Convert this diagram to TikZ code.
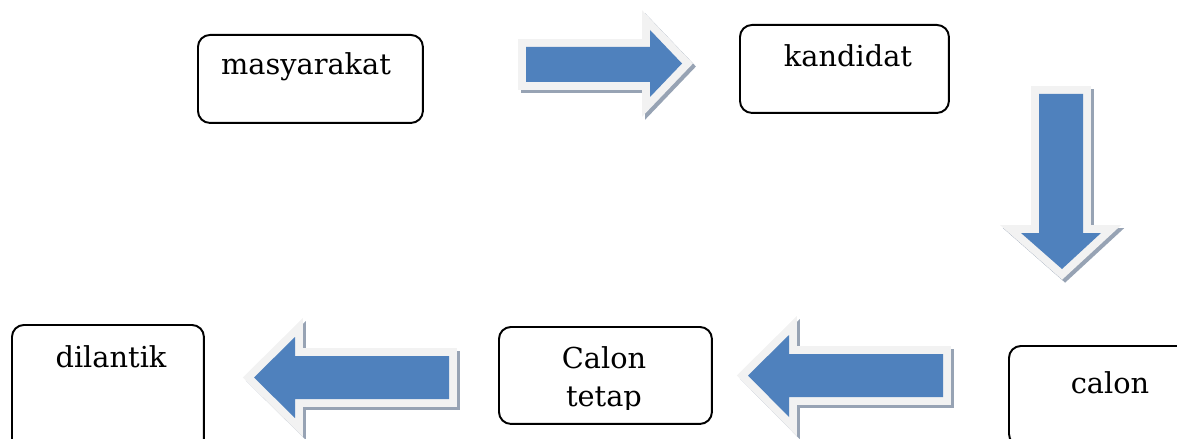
\documentclass[tikz,border=0pt]{standalone}
\usepackage{fontspec}
\setmainfont{DejaVu Serif}
\usepackage{xcolor}
\definecolor{arrowblue}{RGB}{79,129,189}
\definecolor{rimgray}{RGB}{242,242,242}
\definecolor{shadowgray}{RGB}{151,163,180}

\tikzset{
  box/.style={draw=black, line width=1.1pt, rounded corners=0.24cm,
              anchor=north west, inner sep=0pt},
  lbl/.style={anchor=base, inner sep=0pt, font=\fontsize{16.4}{19}\selectfont},
  arrowshadow/.style={draw=shadowgray, fill=shadowgray, line width=9pt, line join=miter},
  arrowrim/.style={draw=rimgray, fill=rimgray, line width=9pt, line join=miter},
  arrowbody/.style={fill=arrowblue}
}

% block arrow: shadow, light rim, blue body
\newcommand{\fatarrow}[1]{%
  \draw [arrowshadow, shift={(3,3)}] #1 -- cycle;
  \draw [arrowrim] #1 -- cycle;
  \fill [arrowbody] #1 -- cycle;}

\begin{document}
\begin{tikzpicture}[x=0.02cm, y=-0.02cm]
    \useasboundingbox (0,0) rectangle (1177,439);
    \clip (0,0) rectangle (1177,439);

    % boxes
    \node [box, minimum width=4.5cm, minimum height=1.76cm] (masy) at (197,34) {};
    \node [box, minimum width=4.18cm, minimum height=1.76cm] (kand) at (739,24) {};
    \node [box, minimum width=4.0cm, minimum height=2.0cm] (calon) at (1008,345) {};
    \node [box, minimum width=4.26cm, minimum height=1.94cm] (tetap) at (498,326) {};
    \node [box, minimum width=3.84cm, minimum height=2.6cm] (lantik) at (11,324) {};

    % texts
    \node [lbl] (masytxt) at (306,75) {masyarakat};
    \node [lbl] (kandtxt) at (848,67) {kandidat};
    \node [lbl] (calontxt) at (1110,393) {calon};
    \node [lbl] (lantiktxt) at (111,367) {dilantik};
    \begin{scope}
      \clip (498,326) rectangle (711,409);
      \node [lbl] (tetaptxt1) at (604,368) {Calon};
      \node [lbl] (tetaptxt2) at (604,406) {tetap};
    \end{scope}

    % arrows
    \fatarrow{(526,47) -- (650,47) -- (650,30) -- (682,63.5) -- (650,97) -- (650,82) -- (526,82)}
    \fatarrow{(1039,94) -- (1083,94) -- (1083,233) -- (1101,233) -- (1062,269) -- (1021,233) -- (1039,233)}
    \fatarrow{(943,354) -- (789,354) -- (789,335) -- (748,375.5) -- (789,417) -- (789,397) -- (943,397)}
    \fatarrow{(449,356) -- (295,356) -- (295,337) -- (254,377.5) -- (295,418) -- (295,399) -- (449,399)}
\end{tikzpicture}
\end{document}
